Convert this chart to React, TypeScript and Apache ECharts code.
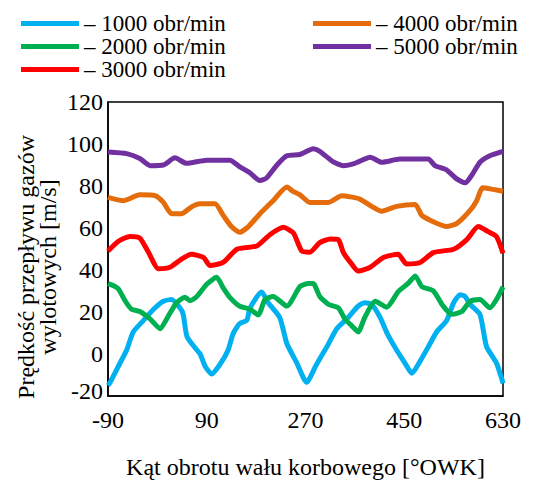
import React, { useEffect, useRef } from "react";
import * as echarts from "echarts";

const FONT = "Liberation Serif";

const seriesNames = [
  "– 1000 obr/min",
  "– 2000 obr/min",
  "– 3000 obr/min",
  "– 4000 obr/min",
  "– 5000 obr/min",
];
const seriesColors = ["#00B0F0", "#00B050", "#FF0000", "#E46C0A", "#7030A0"];

const xTicks = [-90, 90, 270, 450, 630];
const yTicks = [-20, 0, 20, 40, 60, 80, 100, 120];

// [crank angle °OWK, velocity m/s]
const rpm1000: [number, number][] = [
  [-90, -15], [-86, -13.5], [-71, -5.8], [-56, 1.9], [-44, 10.5], [-26, 15.8], [-7, 21.3],
  [11, 25.1], [26, 25.9], [41, 22], [47, 19], [54, 8.3], [72, 1.9], [78, 0], [87, -5.8],
  [99, -9.5], [114, -5], [129, 1.9], [138, 9.7], [150, 14.5], [163, 16], [169, 22], [190, 29.5],
  [202, 24.4], [223, 17.4], [236, 5], [254, -4.2], [272, -13.5], [290, -5], [309, 3.5],
  [327, 12], [345, 16.6], [366, 22.8], [378, 24.4], [391, 23.6], [406, 17.4], [419, 9.7],
  [436, 1.9], [451, -4.2], [464, -9.2], [479, -3.4], [494, 3.5], [509, 10.5], [527, 15.8],
  [540, 24.4], [552, 28.2], [561, 27.4], [570, 23.6], [588, 18.9], [600, 3.5], [618, -4.2],
  [628, -12], [630, -14],
];
const rpm2000: [number, number][] = [
  [-90, 33.5], [-80, 32.5], [-71, 31], [-58, 25], [-47, 21.3], [-32, 20.2], [-13, 16.6],
  [5, 12], [20, 18.1], [35, 24.4], [50, 27], [60, 25.4], [72, 27.4], [90, 33.2], [108, 36.5],
  [120, 31.5], [132, 27], [150, 22.8], [169, 21.3], [184, 18.6], [196, 25.9], [211, 27.4],
  [236, 22.8], [260, 32.1], [275, 33.6], [284, 33.6], [296, 27.4], [312, 23.6], [330, 22],
  [342, 16.6], [354, 13.5], [366, 10.5], [378, 17.4], [397, 25.1], [418, 22.3], [439, 29.7],
  [457, 33.6], [470, 37.2], [482, 32.1], [503, 30.1], [521, 22.8], [537, 18.9], [555, 20.2],
  [570, 25.1], [588, 25.9], [606, 22], [618, 25.9], [630, 32],
];
const rpm3000: [number, number][] = [
  [-90, 49], [-71, 53.7], [-50, 56], [-32, 55.2], [-16, 48.3], [2, 40.6], [23, 41.3],
  [44, 45.2], [62, 47.5], [84, 46], [96, 42.1], [120, 43.6], [145, 49.9], [181, 51.4],
  [205, 56.8], [230, 60.3], [248, 57.6], [263, 49.1], [278, 48.5], [296, 53], [315, 54.8],
  [330, 54.4], [339, 48.3], [354, 42.9], [366, 39.5], [388, 41.3], [412, 46], [439, 47.5],
  [454, 42.9], [479, 43.6], [503, 48.3], [540, 49.9], [564, 54.5], [585, 60.7], [603, 58.3],
  [618, 56], [630, 48],
];
const rpm4000: [number, number][] = [
  [-90, 74.6], [-62, 73], [-32, 75.8], [-4, 75.4], [11, 72.2], [26, 66.8], [44, 66.8],
  [62, 70], [78, 71.5], [105, 71.5], [120, 66], [135, 60.7], [150, 58], [166, 60.7],
  [187, 66.8], [211, 73], [236, 79.5], [248, 77.3], [260, 75.8], [278, 72.2], [312, 72.2],
  [336, 75.4], [369, 73.8], [388, 70.7], [409, 68], [436, 70.3], [470, 71.2], [482, 66],
  [503, 63], [527, 60.7], [546, 62.2], [570, 68.4], [582, 73], [593, 79.2], [612, 78.4],
  [630, 77.5],
];
const rpm5000: [number, number][] = [
  [-90, 96.2], [-56, 95.4], [-32, 93.1], [-13, 89.7], [11, 90], [32, 93.4], [53, 90.8],
  [90, 92.3], [132, 92.3], [151, 89], [169, 86.2], [187, 82.6], [199, 83.8], [218, 90],
  [236, 94.4], [260, 95], [284, 97.7], [296, 96.5], [320, 91.6], [339, 89.7], [360, 90.8],
  [388, 93.7], [409, 91.3], [442, 92.8], [494, 92.8], [506, 89.7], [527, 87.7], [545, 83.5],
  [561, 81.5], [573, 85.1], [588, 91.3], [606, 94.4], [630, 96.5],
];

const allSeries = [rpm1000, rpm2000, rpm3000, rpm4000, rpm5000];
const X_OFFSET = 90; // axis drawn from 0 so ticks fall on -90, 90, 270...

// legend slot per series: [left, row centre y]
const legendSlots: [number, number][] = [
  [21, 23.5],
  [21, 46.5],
  [21, 69.5],
  [313, 23.5],
  [313, 46.5],
];

export default function App() {
  const ref = useRef<HTMLDivElement>(null);
  useEffect(() => {
    if (!ref.current) return;
    const chart = echarts.init(ref.current, undefined, { renderer: "svg" });
    const legendText = { fontFamily: FONT, fontSize: 23, color: "#000", lineHeight: 23 };
    chart.setOption({
      animation: false,
      backgroundColor: "#fff",
      textStyle: { fontFamily: FONT },
      legend: seriesNames.map((n, i) => ({
        data: [n],
        orient: "horizontal",
        left: legendSlots[i][0],
        top: legendSlots[i][1] - 11.5,
        padding: 0,
        icon: "rect",
        itemWidth: 58,
        itemHeight: 5,
        textStyle: legendText,
      })),
      grid: {
        left: 108,
        top: 102,
        width: 395,
        height: 302,
        show: true,
        borderColor: "#000",
        borderWidth: 1.5,
      },
      xAxis: {
        type: "value",
        min: xTicks[0] + X_OFFSET,
        max: xTicks[xTicks.length - 1] + X_OFFSET,
        interval: xTicks[1] - xTicks[0],
        axisLine: { show: true, onZero: false, lineStyle: { color: "#000", width: 1.5 } },
        axisTick: { show: false },
        splitLine: { show: false },
        axisLabel: {
          fontFamily: FONT,
          fontSize: 24,
          color: "#000",
          margin: 12,
          formatter: (v: number) => String(v - X_OFFSET),
        },
        name: "Kąt obrotu wału korbowego [°OWK]",
        nameLocation: "middle",
        nameGap: 59,
        nameTextStyle: { fontFamily: FONT, fontSize: 24, color: "#000" },
      },
      yAxis: {
        type: "value",
        min: yTicks[0],
        max: yTicks[yTicks.length - 1],
        interval: yTicks[1] - yTicks[0],
        axisLine: { show: true, onZero: false, lineStyle: { color: "#000", width: 1.5 } },
        axisTick: { show: false },
        splitLine: { show: false },
        axisLabel: {
          fontFamily: FONT,
          fontSize: 24,
          color: "#000",
          margin: 5,
          formatter: (v: number) => (v === yTicks[0] ? `{lo|${v}}` : String(v)),
          rich: {
            lo: { fontFamily: FONT, fontSize: 24, color: "#000", padding: [0, 0, 10, 0] },
          },
        },
      },
      graphic: [
        {
          type: "text",
          x: 37,
          y: 267,
          rotation: Math.PI / 2,
          style: {
            text: "Prędkość przepływu gazów\nwylotowych [m/s]",
            fontFamily: FONT,
            fontSize: 24,
            fill: "#000",
            textAlign: "center",
            textVerticalAlign: "middle",
            lineHeight: 22,
          },
        },
      ],
      series: allSeries.map((pts, i) => ({
        name: seriesNames[i],
        type: "line",
        data: pts.map(([x, y]) => [x + X_OFFSET, y]),
        showSymbol: false,
        symbol: "none",
        smooth: 0.2,
        lineStyle: { color: seriesColors[i], width: 5 },
        itemStyle: { color: seriesColors[i] },
      })),
    });
    return () => chart.dispose();
  }, []);
  return (
    <div
      ref={ref}
      style={{ position: "fixed", left: 0, top: 0, width: 559, height: 484, background: "#fff" }}
    />
  );
}
